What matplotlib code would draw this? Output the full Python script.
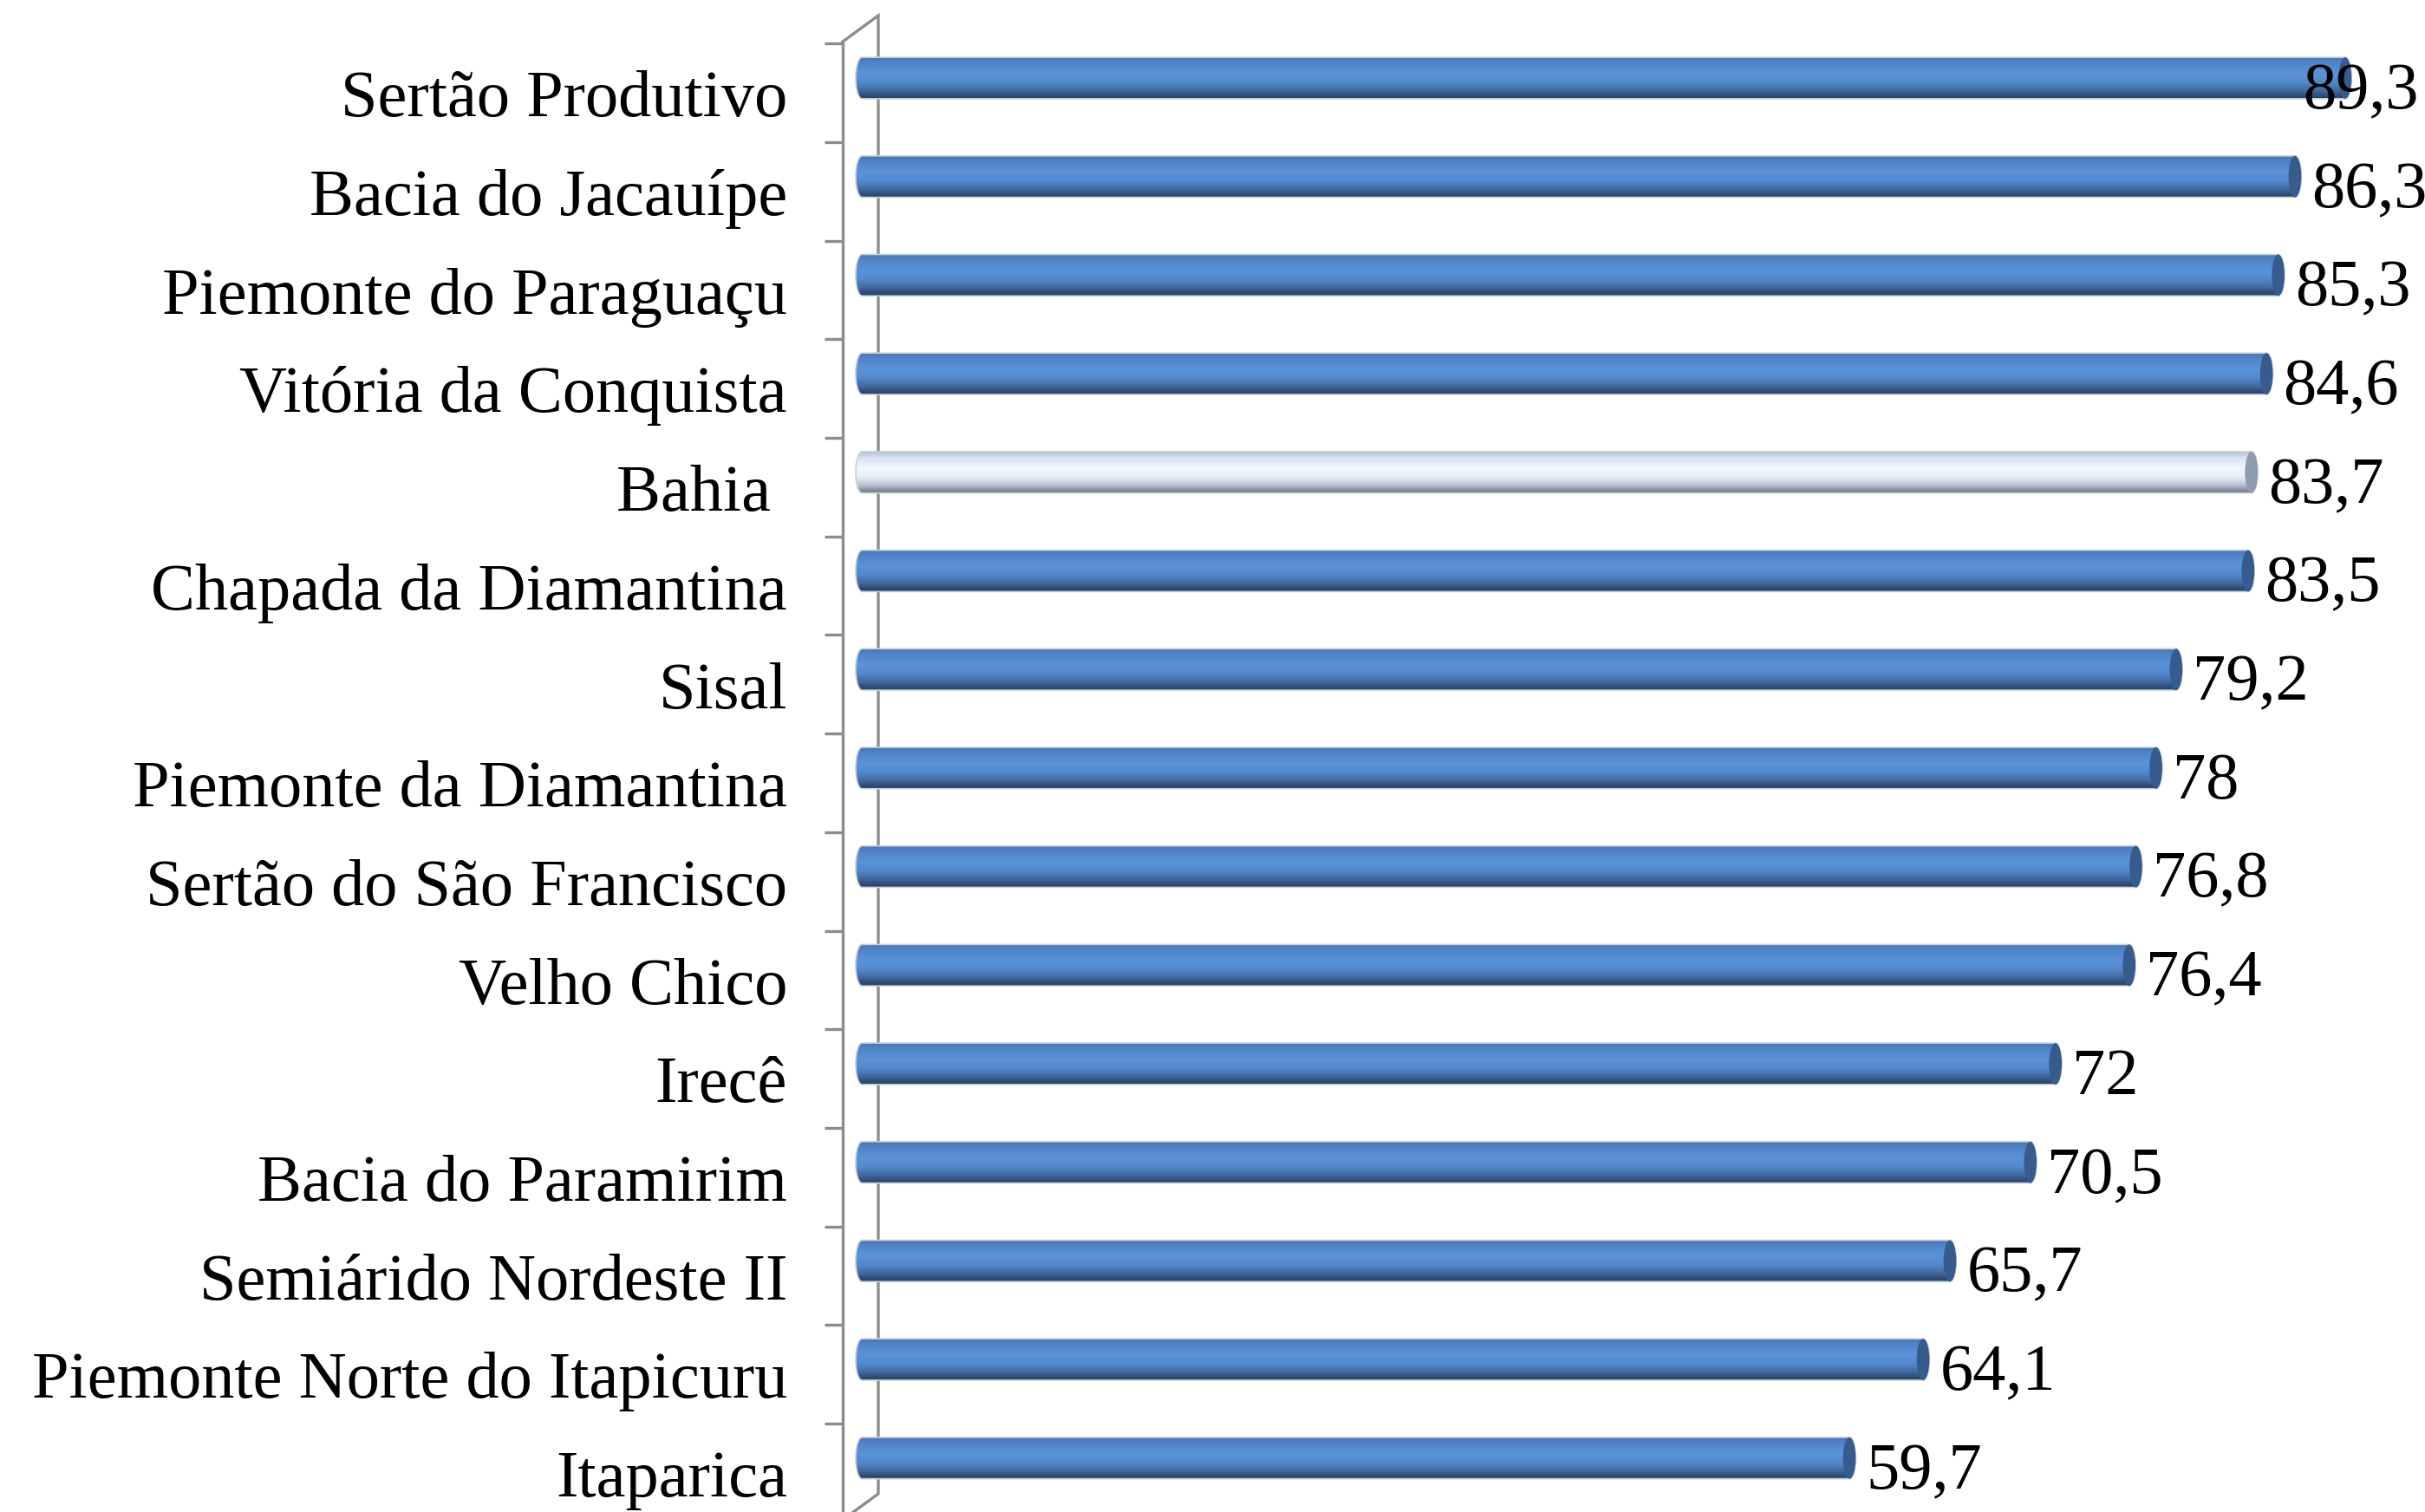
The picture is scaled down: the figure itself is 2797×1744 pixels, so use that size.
import numpy as np
import matplotlib
matplotlib.use("Agg")
import matplotlib.pyplot as plt
from matplotlib.colors import LinearSegmentedColormap
from matplotlib.patches import PathPatch, Ellipse
from matplotlib.path import Path

# Territórios de identidade, ordem de cima para baixo
territorios = [
    "Sertão Produtivo", "Bacia do Jacauípe", "Piemonte do Paraguaçu",
    "Vitória da Conquista", "Bahia ", "Chapada da Diamantina", "Sisal",
    "Piemonte da Diamantina", "Sertão do São Francisco", "Velho Chico",
    "Irecê", "Bacia do Paramirim", "Semiárido Nordeste II",
    "Piemonte Norte do Itapicuru", "Itaparica",
]
valores = [89.3, 86.3, 85.3, 84.6, 83.7, 83.5, 79.2, 78, 76.8, 76.4,
           72, 70.5, 65.7, 64.1, 59.7]
rotulos = ["89,3", "86,3", "85,3", "84,6", "83,7", "83,5", "79,2", "78",
           "76,8", "76,4", "72", "70,5", "65,7", "64,1", "59,7"]
destaque = "Bahia "

plt.rcParams['font.family'] = ['Liberation Serif', 'DejaVu Serif']

W, H, DPI = 2797, 1744, 100
fig = plt.figure(figsize=(W / DPI, H / DPI), dpi=DPI)

# eixo frontal em x=972 px, zero das barras em 987 px, 19.32 px por unidade
x0_px, px_unit = 987, 19.32
y0_px, px_row = 90, 113.7
ax_left, ax_top = 972, 48
ax = fig.add_axes([ax_left / W, 0, 1 - ax_left / W, 1 - ax_top / H])
ax.set_xlim((ax_left - x0_px) / px_unit, (W - x0_px) / px_unit)
ax.set_ylim((H - y0_px) / px_row, (ax_top - y0_px) / px_row)

azul = LinearSegmentedColormap.from_list("azul", [
    (0.0, "#4a74ad"), (0.12, "#5083c6"), (0.4, "#5b93d9"), (0.6, "#5389cd"),
    (0.8, "#42699f"), (0.93, "#2e4b74"), (1.0, "#2a4269")])
cinza = LinearSegmentedColormap.from_list("cinza", [
    (0.0, "#b4bfd0"), (0.15, "#d9e3f1"), (0.4, "#f3f8ff"), (0.6, "#e7eef8"),
    (0.8, "#bcc5d4"), (0.93, "#828b9c"), (1.0, "#6e7789")])

h = 0.42
rx = 0.38
fs = 55
grad = np.linspace(0, 1, 256).reshape(-1, 1)

for i, (nome, v) in enumerate(zip(territorios, valores)):
    cmap = cinza if nome == destaque else azul
    tampa = "#8f9bb0" if nome == destaque else "#365b8f"
    # contorno da barra cilíndrica
    t1 = np.linspace(np.pi / 2, 3 * np.pi / 2, 40)
    t2 = np.linspace(-np.pi / 2, np.pi / 2, 40)
    xs = np.concatenate([rx + rx * np.cos(t1), v - rx + rx * np.cos(t2)])
    ys = np.concatenate([i + h / 2 * np.sin(t1), i + h / 2 * np.sin(t2)])
    verts = np.column_stack([xs, ys])
    verts = np.vstack([verts, verts[:1]])
    contorno = PathPatch(Path(verts, closed=True), facecolor="none",
                         edgecolor="#c9d0da", lw=1.2, transform=ax.transData, zorder=3)
    ax.add_patch(contorno)
    im = ax.imshow(grad, cmap=cmap, aspect="auto", origin="upper",
                   extent=(0, v, i + h / 2, i - h / 2), zorder=2,
                   interpolation="bilinear")
    im.set_clip_path(contorno)
    ax.add_patch(Ellipse((v - rx, i), 2 * rx, h, facecolor=tampa,
                         edgecolor="none", zorder=4))

    if v == max(valores):
        ax.annotate(rotulos[i], xy=(1, i + 0.31), xycoords=("axes fraction", "data"),
                    xytext=(-7, 0), textcoords="offset pixels",
                    ha="right", va="baseline", fontsize=fs, zorder=5)
    else:
        ax.annotate(rotulos[i], xy=(v, i + 0.31), xytext=(12, 0),
                    textcoords="offset pixels", ha="left", va="baseline",
                    fontsize=fs, zorder=5)
    ax.text((908 - x0_px) / px_unit, i + 0.39, nome, ha="right", va="baseline",
            fontsize=fs, clip_on=False)

# ajustes visuais do eixo (parede em perspectiva)
linha = "#8c8c8c"
ax.set_ylim(ax.get_ylim())
ax.set_xlim(ax.get_xlim())
xf = (ax_left - x0_px) / px_unit
xb = (1013 - x0_px) / px_unit
yt_f = (ax_top - y0_px) / px_row
yt_b = (18 - y0_px) / px_row
yb_b = (1723 - y0_px) / px_row
yb_f = (1753 - y0_px) / px_row
ax.plot([xf, xb, xb, xf], [yt_f, yt_b, yb_b, yb_f], color=linha, lw=2.4,
        clip_on=False, zorder=1, solid_joinstyle="miter")

for s in ["top", "right", "bottom"]:
    ax.spines[s].set_visible(False)
ax.spines["left"].set_color(linha)
ax.spines["left"].set_linewidth(2.4)
ax.set_xticks([])
ax.set_yticks(np.arange(15) - 0.35)
ax.set_yticklabels([])
ax.tick_params(axis="y", length=15, width=2.4, color=linha, direction="out")
ax.patch.set_visible(False)

fig.savefig("out.png", dpi=DPI)
